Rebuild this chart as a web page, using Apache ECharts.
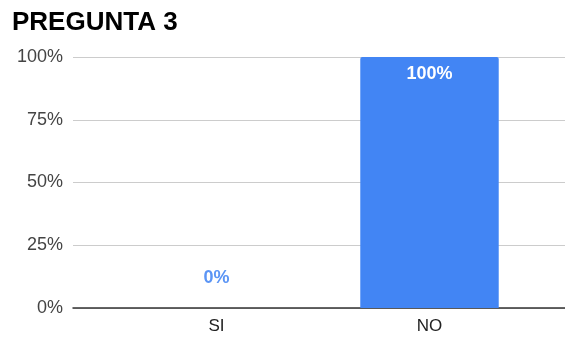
<!DOCTYPE html>
<html>
<head>
<meta charset="utf-8">
<script src="https://cdn.jsdelivr.net/npm/echarts@6/dist/echarts.min.js"></script>
<style>
  html, body { margin: 0; padding: 0; background: #fff; }
  #chart { width: 565px; height: 340px; }
</style>
</head>
<body>
<div id="chart"></div>
<script>
// Answers to question 3 and their share of responses (%)
const categories = ['SI', 'NO'];
const values = [0, 100];
const yTicks = [0, 25, 50, 75, 100];

const blue = '#4285F4';
const font = 'Liberation Sans, Arial, sans-serif';

const chart = echarts.init(document.getElementById('chart'), null, { renderer: 'canvas' });

chart.setOption({
  animation: false,
  title: {
    text: 'PREGUNTA 3',
    left: 7,
    top: 5,
    textStyle: { fontFamily: font, fontSize: 26, fontWeight: 'bold', color: '#000' }
  },
  grid: [
    // full-width grid carrying the value axis, gridlines and baseline
    { left: 73, right: 0, top: 57, bottom: 32 },
    // inner grid carrying the category bars
    { left: 110, right: 29, top: 57, bottom: 32 }
  ],
  xAxis: [
    {
      gridIndex: 0,
      type: 'category',
      data: [''],
      axisLine: { show: true, lineStyle: { color: '#333', width: 1.5 } },
      axisTick: { show: false },
      axisLabel: { show: false }
    },
    {
      gridIndex: 1,
      type: 'category',
      data: categories,
      axisLine: { show: false },
      axisTick: { show: false },
      axisLabel: { fontFamily: font, fontSize: 17, color: '#222', margin: 10 }
    }
  ],
  yAxis: [
    {
      gridIndex: 0,
      type: 'value',
      min: yTicks[0],
      max: yTicks[yTicks.length - 1],
      interval: 25,
      axisLine: { show: false },
      axisTick: { show: false },
      splitLine: { lineStyle: { color: '#cccccc', width: 1 } },
      axisLabel: {
        fontFamily: font, fontSize: 18, color: '#444', margin: 10,
        formatter: v => v + '%'
      }
    },
    {
      gridIndex: 1,
      type: 'value',
      min: yTicks[0],
      max: yTicks[yTicks.length - 1],
      interval: 25,
      show: false
    }
  ],
  series: [{
    type: 'bar',
    xAxisIndex: 1,
    yAxisIndex: 1,
    barWidth: '65%',
    itemStyle: { color: blue, borderRadius: [2, 2, 0, 0] },
    data: values.map(v => ({
      value: v,
      label: v >= 50
        ? { show: true, position: 'insideTop', distance: 8, color: '#fff' }
        : { show: true, position: 'top', distance: 21, color: '#5b95f5' }
    })),
    label: {
      fontFamily: font,
      fontSize: 18,
      fontWeight: 'bold',
      formatter: p => p.value + '%'
    }
  }]
});
</script>
</body>
</html>
